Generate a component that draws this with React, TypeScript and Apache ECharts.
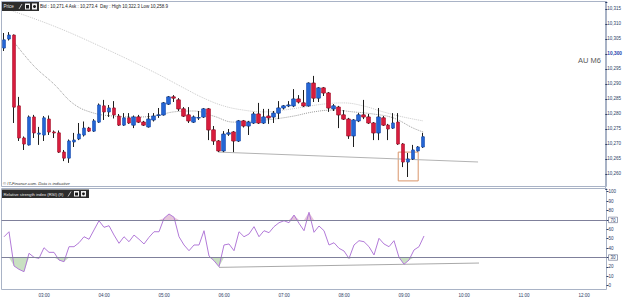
import React, { useEffect, useRef } from "react";
import * as echarts from "echarts";

// ---- time slots (5-minute bars, 02:20 .. 12:20) ----
const startMinute = 2 * 60 + 20;
const slotCount = 121;
const categories: string[] = Array.from({ length: slotCount }, (_, i) => {
  const m = startMinute + 5 * i;
  return `${String(Math.floor(m / 60)).padStart(2, "0")}:${String(m % 60).padStart(2, "0")}`;
});

// ---- candles (index 0 = 02:20) ----
const opens = [
  10302, 10305, 10306.3, 10282.7, 10272, 10269.7, 10279, 10273.3, 10273, 10278.3,
  10274, 10273.7, 10267.3, 10265.3, 10270.7, 10271.7, 10273, 10275.3, 10274.3, 10277.3,
  10282.7, 10280.7, 10282, 10279.3, 10276.3, 10278.7, 10276.3, 10279, 10277.3, 10275.7,
  10278, 10279.5, 10279.7, 10283.3, 10285.7, 10284.7, 10281.7, 10279.7, 10277.3, 10278.7,
  10279, 10281.7, 10274.7, 10271, 10267.7, 10273.3, 10274, 10271, 10277.7, 10276,
  10277, 10280, 10277, 10279.3, 10279, 10280.3, 10282, 10282.7, 10282.7, 10285,
  10283.7, 10282.7, 10290.3, 10285.3, 10288.7, 10287, 10281.7, 10282.3, 10279.7, 10278.3,
  10272.7, 10277.7, 10279.7, 10279, 10277, 10273.7, 10278.7, 10276.3, 10275.3, 10277.3,
  10270, 10264, 10265, 10267.7, 10269,
];
const closes = [
  10304.7, 10306.3, 10282.3, 10272, 10270, 10279, 10273.7, 10273.6, 10278.7, 10274,
  10273.7, 10267.3, 10265.3, 10271, 10271.3, 10273.3, 10275.3, 10274.3, 10277.7, 10283,
  10280.7, 10282, 10279.7, 10276.3, 10278.7, 10277, 10279, 10277.3, 10276.3, 10278.3,
  10279.3, 10279.7, 10283.7, 10285.7, 10285.3, 10281.7, 10279.3, 10277.7, 10279, 10278.8,
  10281.7, 10274.7, 10271, 10267.7, 10273.3, 10273.7, 10271, 10277.7, 10276, 10277.3,
  10280, 10277, 10279, 10278.7, 10280.3, 10282, 10282.7, 10283, 10285, 10284,
  10282.7, 10290.3, 10285.3, 10288.7, 10287, 10282, 10282.7, 10279.7, 10278.3, 10272.7,
  10278, 10279.7, 10279, 10277, 10273.7, 10279, 10276.3, 10275, 10277, 10270,
  10264, 10265, 10268, 10269, 10272.4,
];
const lows = [
  10301, 10304.5, 10277, 10271, 10268, 10269.5, 10272, 10269.7, 10271, 10273,
  10272, 10267, 10264.3, 10263.7, 10269, 10271.3, 10272.5, 10274, 10274, 10277,
  10278, 10279, 10278.5, 10276, 10276, 10276.7, 10275.3, 10277, 10276, 10275.5,
  10277.5, 10278.7, 10279.5, 10283, 10284, 10281, 10279, 10277, 10277, 10278,
  10278.7, 10271.3, 10269.7, 10267.3, 10267.3, 10272.7, 10267.3, 10270.7, 10275.5, 10273,
  10276.7, 10276.7, 10276.7, 10276.7, 10277, 10278.3, 10281.5, 10282.3, 10282.3, 10283.5,
  10282.3, 10282.5, 10284, 10284, 10286, 10280.7, 10281, 10275.3, 10278, 10271.7,
  10269, 10277.3, 10278.3, 10276.7, 10271.3, 10271.3, 10276, 10271.3, 10275, 10269.7,
  10262.3, 10259, 10264.7, 10267.5, 10268.7,
];
const highs = [
  10307, 10307.3, 10306.5, 10285.7, 10272.5, 10279.5, 10279.7, 10275.7, 10279.3, 10279.5,
  10274.5, 10274.5, 10268, 10271.5, 10273.7, 10277, 10277.5, 10275.7, 10278.3, 10283.5,
  10284.7, 10283, 10284.3, 10280, 10280.3, 10280.3, 10279.5, 10279.7, 10277.7, 10280.3,
  10280.3, 10282, 10284, 10286, 10286.3, 10285.3, 10282.3, 10282.3, 10279.5, 10281,
  10282, 10282, 10276, 10271.3, 10274.3, 10275, 10274.3, 10278, 10278, 10277.7,
  10280.7, 10283.7, 10281.7, 10281.7, 10281, 10284.3, 10283, 10284.3, 10288.3, 10286.3,
  10288, 10290.5, 10292.7, 10289, 10289, 10287.3, 10283.3, 10282.7, 10281.3, 10278.7,
  10278.3, 10280.3, 10284.7, 10280, 10277.3, 10282, 10279.3, 10276.7, 10280.3, 10280.3,
  10270.3, 10267, 10269.7, 10269.3, 10273.7,
];

// ---- moving averages read at sampled bars [barIndex, price] ----
const maSlow = [
  [0, 10315.3], [10, 10309.3], [20, 10302], [30, 10294], [36, 10288.7], [40, 10285.3],
  [44, 10282.7], [48, 10281.3], [52, 10280.7], [56, 10281.3], [60, 10282.3], [64, 10283.3],
  [68, 10283.7], [72, 10282.7], [76, 10280.7], [80, 10279], [84, 10277.7],
];
const maFast = [
  [2, 10304], [6, 10296], [10, 10290], [14, 10283.3], [18, 10280.3], [22, 10279.3],
  [26, 10279], [30, 10279.3], [34, 10280.7], [38, 10281], [42, 10279.3], [46, 10277.3],
  [50, 10277.7], [54, 10278.3], [58, 10279.3], [62, 10280.7], [66, 10281.3], [70, 10280.7],
  [74, 10280], [78, 10278.7], [82, 10275.3], [84, 10274],
];
const priceTrend = [[43, 10267.3], [95, 10264]];
const boxCorners = [[79, 10267.3], [83, 10257.7]];

// ---- RSI (9) ----
const rsi = [
  52, 57.4, 21, 17.4, 14.9, 34.5, 30.2, 29.1, 40.4, 35.5,
  35.5, 27.3, 25.5, 41.5, 41.5, 45.7, 52.1, 49.4, 59.3, 69.1,
  62.1, 63.8, 53.9, 45.1, 52.1, 46.8, 53.9, 49.4, 44.4, 51.5,
  57.4, 57.4, 71.7, 76.3, 72.8, 52.1, 43.3, 37.2, 43.3, 43.3,
  58.5, 31.6, 26.6, 20.2, 43.3, 44.4, 37.2, 57.4, 52.1, 55,
  62.8, 52.1, 58.5, 56.4, 62.8, 67, 69.1, 67, 75.2, 66.4,
  58.5, 78.1, 56.8, 63.5, 58.5, 43.3, 45.7, 39.8, 36.9, 29,
  43.3, 47.9, 46.8, 41.5, 32.7, 50.4, 44.4, 41.5, 47.9, 30.2,
  22.8, 27.3, 38, 41.5, 52.9,
];
const rsiTrend = [[43, 19.5], [95, 24.1]];
const rsiUpper = 70;
const rsiLower = 30;

// ---- tick / header texts ----
const lastPriceText = "10,273.3";
const maLabelText = "10,277";
const rsiLabelText = "52.9";
const headerText = "Bid : 10,271.4 Ask : 10,273.4  Day : High 10,322.3 Low 10,258.9";
const symbolText = "AU M6";
const creditText = "© IT-Finance.com. Data is indicative";
const rsiTitle = "Relative strength index (RSI) (9)";

const FONT = '"Liberation Sans", Arial, sans-serif';
const AXIS_TXT = "#2b3d66";
const FRAME = "#a9b3c6";

export default function App() {
  const ref = useRef<HTMLDivElement>(null);

  useEffect(() => {
    if (!ref.current) return;
    const chart = echarts.init(ref.current, null, { renderer: "svg" });

    const wickData = opens.map((o, i) => [o, closes[i], lows[i], highs[i]]);
    const bodyData = opens.map((o, i) => [o, closes[i], Math.min(o, closes[i]), Math.max(o, closes[i])]);
    const lowBase = rsi.map((v) => Math.min(v, rsiLower));
    const lowFill = rsi.map((v) => rsiLower - Math.min(v, rsiLower));
    const highBase = rsi.map(() => rsiUpper);
    const highFill = rsi.map((v) => Math.max(v, rsiUpper) - rsiUpper);

    const fmtPrice = (v: number) => {
      if (Math.abs(v % 5) > 1e-6 || v <= 10255) return "";
      const s = v.toLocaleString("en-US");
      return v === 10300 ? `{b|${s}}` : s;
    };

    const option: any = {
      animation: false,
      backgroundColor: "#ffffff",
      textStyle: { fontFamily: FONT },
      grid: [
        { left: 1.5, top: 2, width: 605, height: 187 },
        { left: 1.5, top: 191.7, width: 605, height: 94 },
      ],
      xAxis: [
        { type: "category", gridIndex: 0, data: categories, show: false },
        {
          type: "category",
          gridIndex: 1,
          data: categories,
          axisLine: { show: false },
          axisTick: { show: false },
          splitLine: { show: false },
          axisLabel: {
            interval: (_i: number, v: string) => v.endsWith(":00"),
            fontSize: 4.5,
            color: AXIS_TXT,
            margin: 7,
            fontFamily: FONT,
          },
        },
      ],
      yAxis: [
        {
          type: "value",
          gridIndex: 0,
          position: "right",
          min: 10255,
          max: 10317.333,
          interval: 5,
          axisLine: { show: true, lineStyle: { color: FRAME } },
          axisTick: { show: true, length: 2, lineStyle: { color: AXIS_TXT } },
          splitLine: { show: false },
          axisLabel: {
            fontSize: 4.5,
            color: AXIS_TXT,
            margin: 2,
            fontFamily: FONT,
            formatter: fmtPrice,
            rich: { b: { fontWeight: "bold", color: "#1d3fae", fontSize: 4.8, fontFamily: FONT } },
          },
        },
        {
          type: "value",
          gridIndex: 1,
          position: "right",
          min: 0,
          max: 100,
          interval: 10,
          axisLine: { show: true, lineStyle: { color: FRAME } },
          axisTick: { show: true, length: 2, lineStyle: { color: AXIS_TXT } },
          splitLine: { show: false },
          axisLabel: {
            fontSize: 4.5,
            color: AXIS_TXT,
            margin: 2,
            fontFamily: FONT,
            formatter: (v: number) => (v === rsiUpper || v === rsiLower ? `{bx|${v}}` : `${v}`),
            rich: {
              bx: {
                fontSize: 4.5,
                color: AXIS_TXT,
                borderColor: "#5d6485",
                borderWidth: 0.6,
                padding: [0.5, 2, 0, 2],
                fontFamily: FONT,
              },
            },
          },
        },
      ],
      series: [
        {
          type: "line",
          xAxisIndex: 0,
          yAxisIndex: 0,
          data: maSlow,
          smooth: 0.4,
          showSymbol: false,
          silent: true,
          z: 1,
          lineStyle: { color: "#c9c9c9", width: 1, type: "dotted" },
        },
        {
          type: "line",
          xAxisIndex: 0,
          yAxisIndex: 0,
          data: maFast,
          smooth: 0.4,
          showSymbol: false,
          silent: true,
          z: 1,
          lineStyle: { color: "#9c9c9c", width: 1, type: "dotted" },
        },
        {
          type: "line",
          xAxisIndex: 0,
          yAxisIndex: 0,
          data: priceTrend,
          showSymbol: false,
          silent: true,
          z: 1,
          lineStyle: { color: "#b3b3b3", width: 1 },
        },
        {
          type: "candlestick",
          xAxisIndex: 0,
          yAxisIndex: 0,
          data: wickData,
          barWidth: "40%",
          z: 2,
          itemStyle: {
            color: "#1e1e1e",
            color0: "#1e1e1e",
            borderColor: "#1e1e1e",
            borderColor0: "#1e1e1e",
            borderWidth: 1,
          },
        },
        {
          type: "candlestick",
          xAxisIndex: 0,
          yAxisIndex: 0,
          data: bodyData,
          barWidth: "80%",
          z: 3,
          itemStyle: {
            color: "#2465d4",
            color0: "#d81c3d",
            borderColor: "#1c4fae",
            borderColor0: "#a8162f",
            borderWidth: 0.6,
          },
          markArea: {
            silent: true,
            itemStyle: { color: "rgba(0,0,0,0)", borderColor: "#d9956a", borderWidth: 1 },
            data: [
              [
                { xAxis: categories[boxCorners[0][0]], yAxis: boxCorners[0][1] },
                { xAxis: categories[boxCorners[1][0]], yAxis: boxCorners[1][1] },
              ],
            ],
          },
          markLine: {
            silent: true,
            symbol: "none",
            lineStyle: { opacity: 0 },
            data: [
              {
                yAxis: closes[closes.length - 1],
                label: {
                  show: true,
                  position: "end",
                  distance: 1,
                  formatter: lastPriceText,
                  backgroundColor: "#f2b21c",
                  color: "#1d2a4a",
                  fontSize: 4.6,
                  padding: [1, 1, 0.5, 1],
                  fontFamily: FONT,
                },
              },
              {
                yAxis: maSlow[maSlow.length - 1][1],
                label: {
                  show: true,
                  position: "end",
                  distance: 2,
                  formatter: maLabelText,
                  backgroundColor: "#ffffff",
                  borderColor: "#7d869e",
                  borderWidth: 0.6,
                  color: "#7a8299",
                  fontSize: 4.6,
                  padding: [1, 2, 0.5, 2],
                  fontFamily: FONT,
                },
              },
            ],
          },
        },
        // RSI fills
        {
          type: "line",
          xAxisIndex: 1,
          yAxisIndex: 1,
          data: lowBase,
          stack: "lo",
          showSymbol: false,
          silent: true,
          lineStyle: { opacity: 0 },
          z: 1,
        },
        {
          type: "line",
          xAxisIndex: 1,
          yAxisIndex: 1,
          data: lowFill,
          stack: "lo",
          showSymbol: false,
          silent: true,
          lineStyle: { opacity: 0 },
          areaStyle: { color: "#c9e0c2", opacity: 1 },
          z: 1,
        },
        {
          type: "line",
          xAxisIndex: 1,
          yAxisIndex: 1,
          data: highBase,
          stack: "hi",
          showSymbol: false,
          silent: true,
          lineStyle: { opacity: 0 },
          z: 1,
        },
        {
          type: "line",
          xAxisIndex: 1,
          yAxisIndex: 1,
          data: highFill,
          stack: "hi",
          showSymbol: false,
          silent: true,
          lineStyle: { opacity: 0 },
          areaStyle: { color: "#e6c6da", opacity: 1 },
          z: 1,
        },
        {
          type: "line",
          xAxisIndex: 1,
          yAxisIndex: 1,
          data: rsiTrend,
          showSymbol: false,
          silent: true,
          z: 2,
          lineStyle: { color: "#a9a9a9", width: 1 },
        },
        {
          type: "line",
          xAxisIndex: 1,
          yAxisIndex: 1,
          data: rsi,
          showSymbol: false,
          silent: true,
          z: 3,
          lineStyle: { color: "#b27ad8", width: 1 },
          markLine: {
            silent: true,
            symbol: "none",
            label: { show: false },
            lineStyle: { color: "#7f809b", width: 1, type: "solid" },
            data: [
              { yAxis: rsiUpper },
              { yAxis: rsiLower },
              {
                yAxis: rsi[rsi.length - 1],
                lineStyle: { opacity: 0 },
                label: {
                  show: true,
                  position: "end",
                  distance: 9,
                  formatter: rsiLabelText,
                  backgroundColor: "#ffffff",
                  borderColor: "#9a8fc0",
                  borderWidth: 0.5,
                  color: "#8a86a6",
                  fontSize: 3.9,
                  padding: [0.5, 0.5, 0, 0.5],
                  fontFamily: FONT,
                },
              },
            ],
          },
        },
      ],
      graphic: [
        {
          type: "rect",
          silent: true,
          z: 0,
          shape: { x: 1.5, y: 1.5, width: 605, height: 185 },
          style: { fill: "none", stroke: FRAME, lineWidth: 1 },
        },
        {
          type: "rect",
          silent: true,
          z: 0,
          shape: { x: 1.5, y: 188.5, width: 605, height: 101 },
          style: { fill: "none", stroke: FRAME, lineWidth: 1 },
        },
        // price header
        { type: "rect", z: 10, shape: { x: 2, y: 2, width: 37, height: 9 }, style: { fill: "#2d2d2d" } },
        {
          type: "text",
          z: 11,
          x: 3.5,
          y: 6.8,
          style: { text: "Price", fill: "#e8e8e8", fontSize: 4.5, fontFamily: FONT, verticalAlign: "middle" },
        },
        { type: "line", z: 11, shape: { x1: 19, y1: 9, x2: 22, y2: 4 }, style: { stroke: "#e0e0e0", lineWidth: 0.8 } },
        { type: "rect", z: 11, shape: { x: 25, y: 3.5, width: 5, height: 6 }, style: { fill: "#f2f2f2" } },
        { type: "rect", z: 12, shape: { x: 26, y: 5, width: 3, height: 3.5 }, style: { fill: "#1a1a1a" } },
        { type: "rect", z: 11, shape: { x: 32, y: 3.5, width: 5, height: 6 }, style: { fill: "#f2f2f2" } },
        { type: "circle", z: 12, shape: { cx: 34.5, cy: 6.5, r: 1.5 }, style: { fill: "#1a1a1a" } },
        {
          type: "text",
          z: 11,
          x: 40,
          y: 6.8,
          style: { text: headerText, fill: "#222222", fontSize: 4.5, fontFamily: FONT, verticalAlign: "middle" },
        },
        {
          type: "text",
          z: 11,
          x: 578,
          y: 60,
          style: { text: symbolText, fill: "#5a5a5a", fontSize: 7.5, fontFamily: FONT, verticalAlign: "middle" },
        },
        {
          type: "text",
          z: 11,
          x: 3,
          y: 183,
          style: {
            text: creditText,
            fill: "#333333",
            fontSize: 4.2,
            fontStyle: "italic",
            fontFamily: FONT,
            verticalAlign: "middle",
          },
        },
        // RSI header
        { type: "rect", z: 10, shape: { x: 2, y: 189.5, width: 87, height: 8.5 }, style: { fill: "#2d2d2d" } },
        {
          type: "text",
          z: 11,
          x: 3.5,
          y: 194,
          style: { text: rsiTitle, fill: "#e8e8e8", fontSize: 4.2, fontFamily: FONT, verticalAlign: "middle" },
        },
        { type: "line", z: 11, shape: { x1: 68, y1: 196.5, x2: 71, y2: 191.5 }, style: { stroke: "#e0e0e0", lineWidth: 0.8 } },
        { type: "rect", z: 11, shape: { x: 74, y: 191, width: 5, height: 5.5 }, style: { fill: "#f2f2f2" } },
        { type: "rect", z: 12, shape: { x: 75, y: 192.5, width: 3, height: 3 }, style: { fill: "#1a1a1a" } },
        { type: "rect", z: 11, shape: { x: 81, y: 191, width: 5, height: 5.5 }, style: { fill: "#f2f2f2" } },
        { type: "circle", z: 12, shape: { cx: 83.5, cy: 193.8, r: 1.4 }, style: { fill: "#1a1a1a" } },
      ],
    };

    chart.setOption(option);
    return () => chart.dispose();
  }, []);

  return (
    <div
      ref={ref}
      style={{ position: "fixed", left: 0, top: 0, width: 625, height: 298, background: "#fff" }}
    />
  );
}
